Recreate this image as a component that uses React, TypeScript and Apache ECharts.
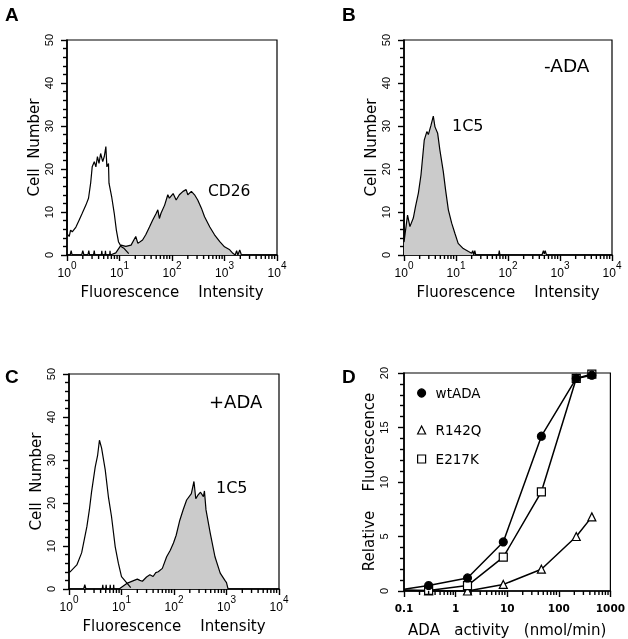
import React, { useEffect, useRef } from "react";
import * as echarts from "echarts";

// ---------- Panel A (CD26) ----------
const aCtrlX = [1, 1, 1.10, 1.17, 1.26, 1.48, 1.70, 1.95, 2.29, 2.57, 2.82, 3.02, 3.31, 3.55, 3.80, 4.07, 4.37, 4.79, 5.13, 5.50, 5.75, 6.17, 6.31, 7.08, 7.94, 8.71, 9.55, 10.7, 12.3, 15];
const aCtrlY = [27, 5, 4.3, 5.8, 5.4, 6.5, 8.1, 9.7, 11.6, 13.2, 16.7, 20.5, 21.7, 20.5, 22.9, 21.3, 23.6, 21.7, 22.9, 25.2, 20.5, 21.3, 16.7, 13.6, 9.7, 5.8, 3.1, 2.0, 1.5, 0.3];
const aCd26X = [1, 1.15, 1.2, 1.25, 1.9, 2.0, 2.1, 2.5, 2.6, 2.7, 3.2, 3.3, 3.4, 4.5, 4.6, 4.7, 5.3, 5.4, 5.5, 6.5, 6.6, 6.7, 8.5, 10.7, 13.2, 16.6, 20.4, 22.4, 27.5, 31.6, 37.2, 42.7, 50.1, 53.7, 57.5, 61.7, 72.4, 83.2, 89.1, 105, 120, 138, 162, 186, 200, 234, 269, 309, 363, 417, 525, 646, 813, 1000, 1259, 1445, 1600, 1700, 1800, 1950, 2100, 10000];
const aCd26Y = [0, 0, 1, 0, 0, 1, 0, 0, 1, 0, 0, 1, 0, 0, 1, 0, 0, 1, 0, 0, 1, 0, 0.5, 2.3, 2.0, 2.3, 4.3, 2.7, 3.5, 4.7, 6.5, 8.1, 9.7, 10.5, 8.5, 9.7, 11.6, 14, 13.2, 14.3, 12.8, 14, 14.8, 15.2, 14, 14.8, 14, 12.8, 10.9, 8.9, 6.5, 4.7, 3.1, 1.9, 1.2, 0.4, 0, 1, 0, 1.2, 0, 0];

// ---------- Panel B (-ADA, 1C5) ----------
const b1c5X = [1, 1, 1.17, 1.30, 1.51, 1.66, 1.89, 2.12, 2.45, 2.75, 2.94, 3.31, 3.66, 3.94, 4.44, 4.90, 5.70, 6.31, 7.13, 8.26, 9.55, 11.0, 13.8, 17.4, 20, 21, 22, 23, 24, 25, 66, 68, 70, 450, 480, 500, 520, 550, 10000];
const b1c5Y = [28, 3, 9.3, 6.6, 8.6, 11.2, 14.4, 18.6, 26.7, 28.7, 28.0, 30.2, 32.3, 29.8, 28.3, 24.4, 19.4, 15.1, 10.5, 7.4, 5.0, 2.7, 1.5, 0.8, 0.4, 1, 0, 1, 0, 0, 0, 1, 0, 0, 1, 0.3, 1, 0, 0];

// ---------- Panel C (+ADA) ----------
const cCtrlX = [1, 1, 1.05, 1.41, 1.74, 2.19, 2.45, 2.69, 3.16, 3.5, 3.80, 4.17, 4.90, 5.62, 6.46, 7.59, 8.71, 10, 12.6, 15];
const cCtrlY = [27, 4, 4, 5.6, 8.4, 14.5, 18.5, 22.6, 28.4, 31, 34.6, 32.8, 27.7, 21.5, 16.8, 9.8, 6, 2.9, 1.4, 0.3];
const c1c5X = [1, 1.9, 2.0, 2.1, 4.3, 4.4, 4.5, 5.0, 5.1, 5.2, 6.0, 6.1, 6.2, 7.0, 7.1, 7.2, 9.0, 12.6, 20, 22.4, 25, 30, 34.7, 40, 45, 50.1, 60, 72.4, 85, 97.7, 110, 129, 150, 174, 214, 240, 260, 288, 320, 363, 380, 407, 490, 603, 759, 933, 1000, 1072, 10000];
const c1c5Y = [0, 0, 1, 0, 0, 1, 0, 0, 1, 0, 0, 1, 0, 0, 1, 0, 0, 1.3, 2.3, 2, 1.8, 2.8, 3.3, 2.9, 3.8, 4, 4.8, 7.5, 9, 10.7, 12.5, 16, 18.5, 20.7, 22.2, 25, 21, 21.9, 22.5, 21.5, 22.8, 18.4, 13, 7.5, 3.7, 2, 1.5, 0, 0];

// ---------- Panel D ----------
const dActivity = [0.1, 0.3, 1.7, 8.4, 46, 218, 437];
const dWtADA = [0.15, 0.5, 1.2, 4.5, 14.2, 19.5, 19.8];
const dR142Q = [0.05, 0.0, 0.0, 0.6, 2.0, 5.0, 6.8];
const dE217K = [0.1, 0.05, 0.5, 3.1, 9.1, 19.5, 19.9];

// axis minor tick positions (log decades)
const histMinorTicks = [2, 3, 4, 5, 6, 7, 8, 9, 20, 30, 40, 50, 60, 70, 80, 90, 200, 300, 400, 500, 600, 700, 800, 900, 2000, 3000, 4000, 5000, 6000, 7000, 8000, 9000];
const dMinorTicks = [0.2, 0.3, 0.4, 0.5, 0.6, 0.7, 0.8, 0.9, 2, 3, 4, 5, 6, 7, 8, 9, 20, 30, 40, 50, 60, 70, 80, 90, 200, 300, 400, 500, 600, 700, 800, 900];

const zip = (xs: number[], ys: number[]) => xs.map((x, i) => [x, ys[i]]);

const SANS = "DejaVu Sans";
const TICKF = "Liberation Sans";
const TICK = "#000";

const histXAxis = (gridIndex: number) => ({
  type: "log",
  logBase: 10,
  gridIndex,
  min: 1,
  max: 10000,
  axisLine: { show: true, lineStyle: { color: "#000", width: 1.6 } },
  axisTick: { show: true, length: 6, lineStyle: { color: TICK, width: 1.4 } },
  splitLine: { show: false },
  axisLabel: {
    margin: 5,
    color: "#000",
    formatter: (v: number) => `{b|10}{s|${Math.round(Math.log10(v))}}`,
    rich: {
      b: { fontSize: 12, fontFamily: TICKF, color: "#000", verticalAlign: "bottom", lineHeight: 19 },
      s: { fontSize: 10, fontFamily: TICKF, color: "#000", verticalAlign: "top", lineHeight: 19 },
    },
  },
  name: "Fluorescence    Intensity",
  nameLocation: "middle",
  nameGap: 29,
  nameTextStyle: { fontSize: 15, fontFamily: SANS, color: "#000" },
});

const histYAxis = (gridIndex: number) => ({
  type: "value",
  gridIndex,
  min: 0,
  max: 50,
  interval: 10,
  axisLine: { show: true, lineStyle: { color: "#000", width: 1.6 } },
  axisTick: { show: true, length: 6, lineStyle: { color: TICK, width: 1.4 } },
  minorTick: { show: true, splitNumber: 5, length: 4, lineStyle: { color: TICK, width: 1.4 } },
  splitLine: { show: false },
  minorSplitLine: { show: false },
  axisLabel: { rotate: 90, margin: 13, color: "#000", fontSize: 11, fontFamily: TICKF },
  name: "Cell  Number",
  nameLocation: "middle",
  nameGap: 26,
  nameRotate: 90,
  nameTextStyle: { fontSize: 15, fontFamily: SANS, color: "#000" },
});

const histLine = (name: string, data: number[][], axisIndex: number, filled: boolean) => ({
  name,
  type: "line",
  xAxisIndex: axisIndex,
  yAxisIndex: axisIndex,
  data,
  symbol: "none",
  showSymbol: false,
  lineStyle: { color: "#000", width: 1.2 },
  areaStyle: filled ? { color: "#cbcbcb", opacity: 1 } : undefined,
  z: filled ? 2 : 3,
});

const dSeries = (name: string, ys: number[], symbol: string, fill: string, z: number) => ({
  name,
  type: "line",
  xAxisIndex: 3,
  yAxisIndex: 3,
  data: dActivity.map((x, i) => (i === 0 ? { value: [x, ys[i]], symbol: "none" } : { value: [x, ys[i]] })),
  symbol,
  symbolSize: 8,
  lineStyle: { color: "#000", width: 1.5 },
  itemStyle: { color: fill, borderColor: "#000", borderWidth: 1.2 },
  z,
});

const textEl = (text: string, x: number, y: number, font: string) => ({
  type: "text",
  x,
  y,
  style: { text, font, fill: "#000", align: "left", verticalAlign: "middle" },
});

const legendItem = (name: string, icon: string, fill: string, top: number) => ({
  data: [{ name, icon, itemStyle: { color: fill, borderColor: "#000", borderWidth: 1.2 } }],
  left: 417,
  top,
  padding: 0,
  itemWidth: 8,
  itemHeight: 8,
  selectedMode: false,
  textStyle: { fontSize: 13.5, fontFamily: SANS, color: "#000", padding: [0, 0, 0, 5] },
});

const labelElements = [
  textEl("A", 5, 14.5, `bold 19px "Liberation Sans"`),
  textEl("B", 342, 14.5, `bold 19px "Liberation Sans"`),
  textEl("C", 5, 376.5, `bold 19px "Liberation Sans"`),
  textEl("D", 342, 376.5, `bold 19px "Liberation Sans"`),
  textEl("CD26", 208, 191, `15.5px "${SANS}"`),
  textEl("-ADA", 544, 65, `18.5px "${SANS}"`),
  textEl("1C5", 452, 125, `16px "${SANS}"`),
  textEl("+ADA", 209, 401, `18px "${SANS}"`),
  textEl("1C5", 216, 487.5, `16px "${SANS}"`),
];

export default function App() {
  const ref = useRef<HTMLDivElement>(null);
  useEffect(() => {
    if (!ref.current) return;
    const chart = echarts.init(ref.current, null, { renderer: "svg" });
    const gridStyle = { show: true, borderColor: "#000", borderWidth: 1.2 };
    chart.setOption({
      animation: false,
      grid: [
        { left: 67, top: 40, width: 210, height: 215, ...gridStyle },
        { left: 404, top: 40, width: 208, height: 215, ...gridStyle },
        { left: 69, top: 374, width: 210, height: 215, ...gridStyle },
        { left: 404, top: 373, width: 208, height: 218, ...gridStyle },
      ],
      xAxis: [
        histXAxis(0),
        histXAxis(1),
        histXAxis(2),
        {
          type: "log",
          logBase: 10,
          gridIndex: 3,
          min: 0.1,
          max: 1000,
          axisLine: { show: true, lineStyle: { color: "#000", width: 1.6 } },
          axisTick: { show: true, length: 6, lineStyle: { color: TICK, width: 1.4 } },
          splitLine: { show: false },
          axisLabel: {
            margin: 11,
            color: "#000",
            fontSize: 10.5,
            fontWeight: "bold",
            fontFamily: SANS,
            formatter: (v: number) => String(+v.toPrecision(3)),
          },
          name: "ADA   activity   (nmol/min)",
          nameLocation: "middle",
          nameGap: 31,
          nameTextStyle: { fontSize: 15, fontFamily: SANS, color: "#000" },
        },
      ],
      yAxis: [
        histYAxis(0),
        histYAxis(1),
        histYAxis(2),
        {
          type: "value",
          gridIndex: 3,
          min: 0,
          max: 20,
          interval: 5,
          axisLine: { show: true, lineStyle: { color: "#000", width: 1.6 } },
          axisTick: { show: true, length: 6, lineStyle: { color: TICK, width: 1.4 } },
          minorTick: { show: true, splitNumber: 5, length: 4, lineStyle: { color: TICK, width: 1.4 } },
          splitLine: { show: false },
          axisLabel: { rotate: 90, margin: 15, color: "#000", fontSize: 11, fontFamily: TICKF },
          name: "Relative    Fluorescence",
          nameLocation: "middle",
          nameGap: 28,
          nameRotate: 90,
          nameTextStyle: { fontSize: 15, fontFamily: SANS, color: "#000" },
        },
      ],
      legend: [
        legendItem("wtADA", "circle", "#000", 386),
        legendItem("R142Q", "triangle", "#fff", 423),
        legendItem("E217K", "rect", "#fff", 452),
      ],
      series: [
        histLine("CD26", zip(aCd26X, aCd26Y), 0, true),
        histLine("A control", zip(aCtrlX, aCtrlY), 0, false),
        histLine("1C5 -ADA", zip(b1c5X, b1c5Y), 1, true),
        histLine("1C5 +ADA", zip(c1c5X, c1c5Y), 2, true),
        histLine("C control", zip(cCtrlX, cCtrlY), 2, false),
        dSeries("R142Q", dR142Q, "triangle", "#fff", 3),
        dSeries("E217K", dE217K, "rect", "#fff", 4),
        dSeries("wtADA", dWtADA, "circle", "#000", 5),
      ],
      graphic: labelElements,
    });

    // log-spaced minor ticks on the x axes, positioned through each axis scale
    const tickEls: any[] = [];
    const addTicks = (ticks: number[], idx: number) => {
      ticks.forEach((v) => {
        const p = chart.convertToPixel({ xAxisIndex: idx, yAxisIndex: idx } as any, [v, 0]) as number[];
        if (!p || isNaN(p[0])) return;
        tickEls.push({
          type: "line",
          silent: true,
          z: 50,
          shape: { x1: p[0], y1: p[1], x2: p[0], y2: p[1] + 4 },
          style: { stroke: TICK, lineWidth: 1.4 },
        });
      });
    };
    addTicks(histMinorTicks, 0);
    addTicks(histMinorTicks, 1);
    addTicks(histMinorTicks, 2);
    addTicks(dMinorTicks, 3);
    chart.setOption({ graphic: [...labelElements, ...tickEls] });

    return () => chart.dispose();
  }, []);
  return <div ref={ref} style={{ position: "fixed", left: 0, top: 0, width: 628, height: 639 }} />;
}
